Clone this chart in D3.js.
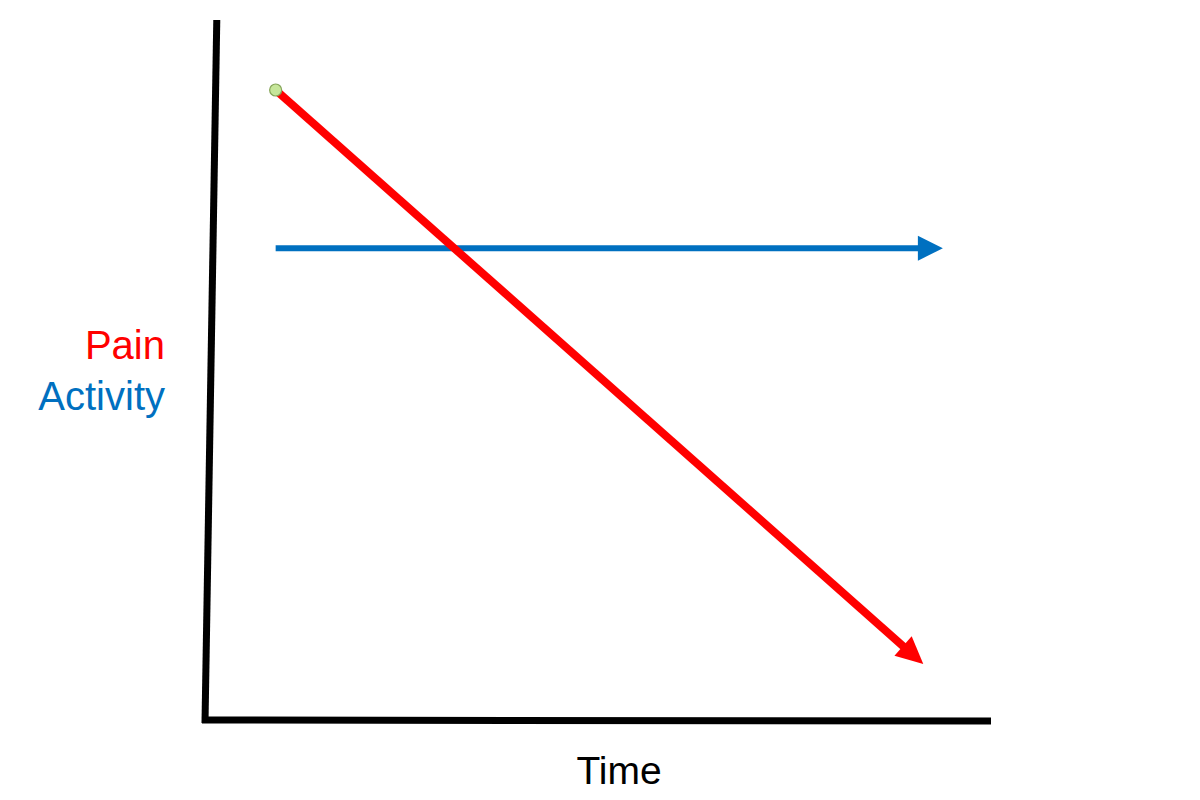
<!DOCTYPE html>
<head>
  <meta charset="utf-8">
</head>
<style>
body { margin: 0; background: #fff; }
text { font-family: "Liberation Sans", Arial, sans-serif; }
</style>
<body>
<script src="https://d3js.org/d3.v7.min.js"></script>
<script>
var width = 1200, height = 800;

// series, in 0-100 units on both axes
var painTime = [9, 91.5];
var pain = [90, 8];
var activityTime = [9, 94];
var activity = [67.4, 67.4];

var axisTitleX = "Time";
var axisTitleY = ["Pain", "Activity"];

var x = d3.scaleLinear().domain([0, 100]).range([205, 990]);
var y = d3.scaleLinear().domain([0, 100]).range([720, 20]);

var svg = d3.select("body").append("svg")
  .attr("width", width)
  .attr("height", height);

// axes (hand drawn look, y axis leans a little)
svg.append("line")
  .attr("x1", x(1.5)).attr("y1", y(100))
  .attr("x2", x(0)).attr("y2", y(0) + 3)
  .attr("stroke", "#000").attr("stroke-width", 7);

svg.append("line")
  .attr("x1", x(0) - 3).attr("y1", y(0))
  .attr("x2", x(100) + 1).attr("y2", y(0) + 1)
  .attr("stroke", "#000").attr("stroke-width", 7);

function arrow(xs, ys, colour, lw, headLen, headHalf) {
  var x0 = x(xs[0]), y0 = y(ys[0]);
  var x1 = x(xs[1]), y1 = y(ys[1]);
  var dx = x1 - x0, dy = y1 - y0;
  var len = Math.sqrt(dx * dx + dy * dy);
  var ux = dx / len, uy = dy / len;
  var bx = x1 - ux * headLen, by = y1 - uy * headLen;

  svg.append("line")
    .attr("x1", x0).attr("y1", y0)
    .attr("x2", bx + ux * 2).attr("y2", by + uy * 2)
    .attr("stroke", colour).attr("stroke-width", lw);

  svg.append("path")
    .attr("d", "M" + x1 + "," + y1 +
      "L" + (bx - uy * headHalf) + "," + (by + ux * headHalf) +
      "L" + (bx + uy * headHalf) + "," + (by - ux * headHalf) + "Z")
    .attr("fill", colour);
}

arrow(activityTime, activity, "#0070c0", 6, 25, 12.5);
arrow(painTime, pain, "#ff0000", 8, 27, 13);

svg.append("circle")
  .attr("cx", x(painTime[0]))
  .attr("cy", y(pain[0]))
  .attr("r", 6)
  .attr("fill", "#c6e69a")
  .attr("stroke", "#86a55a")
  .attr("stroke-width", 1.2);

svg.append("text")
  .attr("x", 165).attr("y", 359)
  .attr("text-anchor", "end")
  .attr("font-size", 40)
  .attr("fill", "#ff0000")
  .text(axisTitleY[0]);

svg.append("text")
  .attr("x", 165).attr("y", 410)
  .attr("text-anchor", "end")
  .attr("font-size", 40)
  .attr("fill", "#0070c0")
  .text(axisTitleY[1]);

svg.append("text")
  .attr("x", 619).attr("y", 784)
  .attr("text-anchor", "middle")
  .attr("font-size", 39)
  .attr("fill", "#000")
  .text(axisTitleX);
</script>
</body>
